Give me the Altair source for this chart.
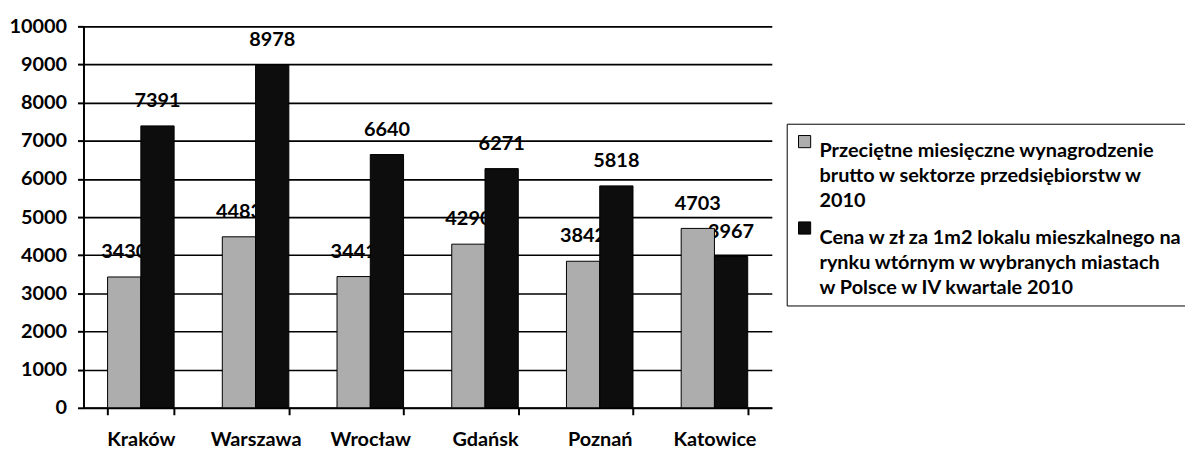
import altair as alt
import pandas as pd

cities = ["Kraków", "Warszawa", "Wrocław", "Gdańsk", "Poznań", "Katowice"]
salary = [3430, 4483, 3441, 4290, 3842, 4703]
price = [7391, 8978, 6640, 6271, 5818, 3967]
series_names = [
    "Przeciętne miesięczne wynagrodzenie|brutto w sektorze przedsiębiorstw  w|2010",
    "Cena w zł za 1m2 lokalu mieszkalnego na|rynku wtórnym w wybranych miastach|w Polsce w IV kwartale 2010",
]
series_colors = ["#adadad", "#0d0d0d"]
y_ticks = list(range(0, 10001, 1000))

rows = []
for c, s, p in zip(cities, salary, price):
    rows.append({"city": c, "series": series_names[0], "value": s})
    rows.append({"city": c, "series": series_names[1], "value": p})
df = pd.DataFrame(rows)

FONT = "Lato"
FS = 20

x_enc = alt.X(
    "city:N",
    sort=cities,
    title=None,
    scale=alt.Scale(paddingInner=0.42, paddingOuter=0.21),
    axis=alt.Axis(
        tickBand="extent",
        labelAngle=0,
        labelFont=FONT,
        labelFontSize=FS,
        labelFontWeight="bold",
        labelColor="black",
        labelPadding=15,
        tickSize=7,
        tickColor="black",
        tickWidth=2,
        domainColor="black",
        domainWidth=2,
        grid=False,
    ),
)
y_enc = alt.Y(
    "value:Q",
    title=None,
    scale=alt.Scale(domain=[0, 10000], nice=False),
    axis=alt.Axis(
        values=y_ticks,
        format="d",
        labelFont=FONT,
        labelFontSize=FS,
        labelFontWeight="bold",
        labelColor="black",
        labelPadding=11,
        tickSize=6,
        tickColor="black",
        tickWidth=2,
        domainColor="black",
        domainWidth=2,
        grid=True,
        gridColor="black",
        gridWidth=1.6,
        gridOpacity=1,
    ),
)
xo = alt.XOffset("series:N", sort=series_names, scale=alt.Scale(paddingInner=0, paddingOuter=0))

labels = alt.Chart(df).mark_text(
    font=FONT, fontSize=FS, fontWeight="bold", color="black",
    baseline="alphabetic", dy=-19,
).encode(x=x_enc, xOffset=xo, y=y_enc, text="value:Q")

bars = alt.Chart(df).mark_bar(stroke="black", strokeWidth=1).encode(
    x=x_enc,
    xOffset=xo,
    y=y_enc,
    color=alt.Color(
        "series:N",
        sort=series_names,
        scale=alt.Scale(domain=series_names, range=series_colors),
        legend=alt.Legend(
            title=None,
            orient="none",
            legendX=708,
            legendY=98,
            labelExpr="split(datum.label, '|')",
            labelFont=FONT,
            labelFontSize=FS,
            labelFontWeight="bold",
            labelColor="black",
            labelLimit=500,
            labelOffset=5,
            symbolType="square",
            symbolSize=150,
            symbolStrokeColor="black",
            symbolStrokeWidth=1,
            strokeColor="black",
            fillColor="white",
            padding=8,
            rowPadding=7,
            labelBaseline="top",
        ),
    ),
)

chart = alt.layer(labels, bars).properties(
    width=693,
    height=384,
    autosize=alt.AutoSizeParams(type="none"),
    padding={"left": 76, "top": 17, "right": 416, "bottom": 43},
).configure(
    background="white",
    style={"guide-label": {"lineHeight": 25}},
).configure_view(stroke="transparent")

chart.save("out.html", embed_options={"renderer": "svg", "actions": False})
